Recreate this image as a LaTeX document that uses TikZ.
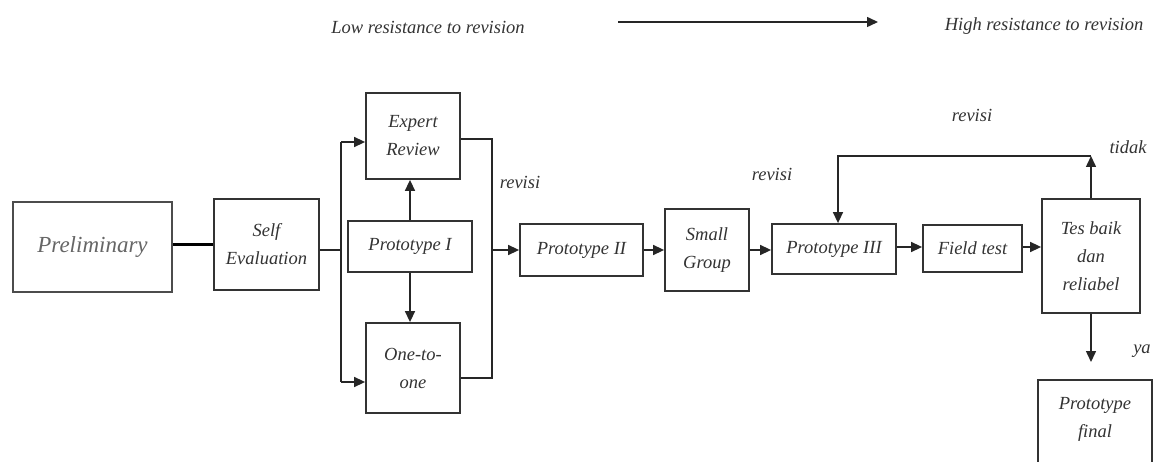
\documentclass[tikz,border=0pt]{standalone}
\usepackage{fontspec}
\setmainfont{Liberation Serif}
\usetikzlibrary{arrows.meta}
\tikzset{
  box/.style={draw=black!80, line width=1.8pt, fill=white, inner sep=2pt, align=center,
    font=\fontsize{18.5}{28}\selectfont\itshape, text=black!80},
  conn/.style={draw=black!85, line width=1.5pt},
  arr/.style={conn, -{Triangle[length=11pt,width=10pt]}},
  lbl/.style={font=\fontsize{18.5}{28}\selectfont\itshape, text=black!80, inner sep=0pt}
}
\begin{document}
\begin{tikzpicture}[x=1pt,y=-1pt]
\useasboundingbox (0,0) rectangle (1154,462);
% top
\node[lbl] (low) at (428,27) {Low resistance to revision};
\node[lbl] (high) at (1044,26) {High resistance to revision};
\coordinate (ta) at (618,22);
\coordinate (tb) at (878,22);
\draw[arr] (ta) -- (tb);
% boxes
\node[box, minimum width=159pt, minimum height=90pt, font=\fontsize{23}{28}\selectfont\itshape, text=black!60, draw=black!70] (pre) at (92.5,247) {Preliminary};
\node[box, minimum width=105pt, minimum height=91pt] (self) at (266.5,244.5) {Self\\Evaluation};
\node[box, minimum width=94pt, minimum height=86pt] (exp) at (413,136) {Expert\\Review};
\node[box, minimum width=124pt, minimum height=51pt] (p1) at (410,246.5) {Prototype I};
\node[box, minimum width=94pt, minimum height=90pt] (one) at (413,368) {One-to-\\one};
\node[box, minimum width=123pt, minimum height=52pt] (p2) at (581.5,250) {Prototype II};
\node[box, minimum width=84pt, minimum height=82pt] (sg) at (707,250) {Small\\Group};
\node[box, minimum width=124pt, minimum height=50pt] (p3) at (834,249) {Prototype III};
\node[box, minimum width=99pt, minimum height=47pt] (ft) at (972.5,248.5) {Field test};
\node[box, minimum width=98pt, minimum height=114pt] (tes) at (1091,256) {Tes baik\\dan\\reliabel};
\node[box, minimum width=114pt, minimum height=90pt] (fin) at (1095,425) {};
\node[lbl, align=center] (fintext) at (1095,419) {Prototype\\final};
% connectors
\draw[conn, line width=2.4pt, draw=black] (pre.east |- self.west) -- (self.west);
\coordinate (jl) at (341,250);
\coordinate (jt) at (341,142);
\coordinate (jb) at (341,382);
\draw[conn] (self.east |- jl) -- (jl);
\draw[conn] (jt) -- (jb);
\draw[arr] (jt) -- (exp.west |- jt);
\draw[arr] (jb) -- (one.west |- jb);
\draw[arr] (p1.north) -- (p1.north |- exp.south);
\draw[arr] (p1.south) -- (p1.south |- one.north);
\coordinate (rt) at (492,139);
\coordinate (rb) at (492,378);
\coordinate (rm) at (492,250);
\draw[conn] (exp.east |- rt) -- (rt) -- (rb) -- (one.east |- rb);
\draw[arr] (rm) -- (p2.west |- rm);
\draw[arr] (p2.east) -- (sg.west |- p2.east);
\draw[arr] (sg.east) -- (p3.west |- sg.east);
\coordinate (m3) at (900,247);
\draw[arr] (p3.east |- m3) -- (ft.west |- m3);
\draw[arr] (ft.east |- m3) -- (tes.west |- m3);
\coordinate (lt) at (1091,156);
\coordinate (ll) at (838,156);
\draw[arr] (tes.north) -- (lt);
\draw[arr] (lt) -- (ll) -- (ll |- p3.north);
\coordinate (yd) at (1091,362);
\draw[arr] (tes.south) -- (yd);
% labels
\node[lbl] (rv1) at (520,182) {revisi};
\node[lbl] (rv2) at (772,174) {revisi};
\node[lbl] (rv3) at (972,115) {revisi};
\node[lbl] (td) at (1128,147) {tidak};
\node[lbl] (ya) at (1142,351) {ya};
\end{tikzpicture}
\end{document}
